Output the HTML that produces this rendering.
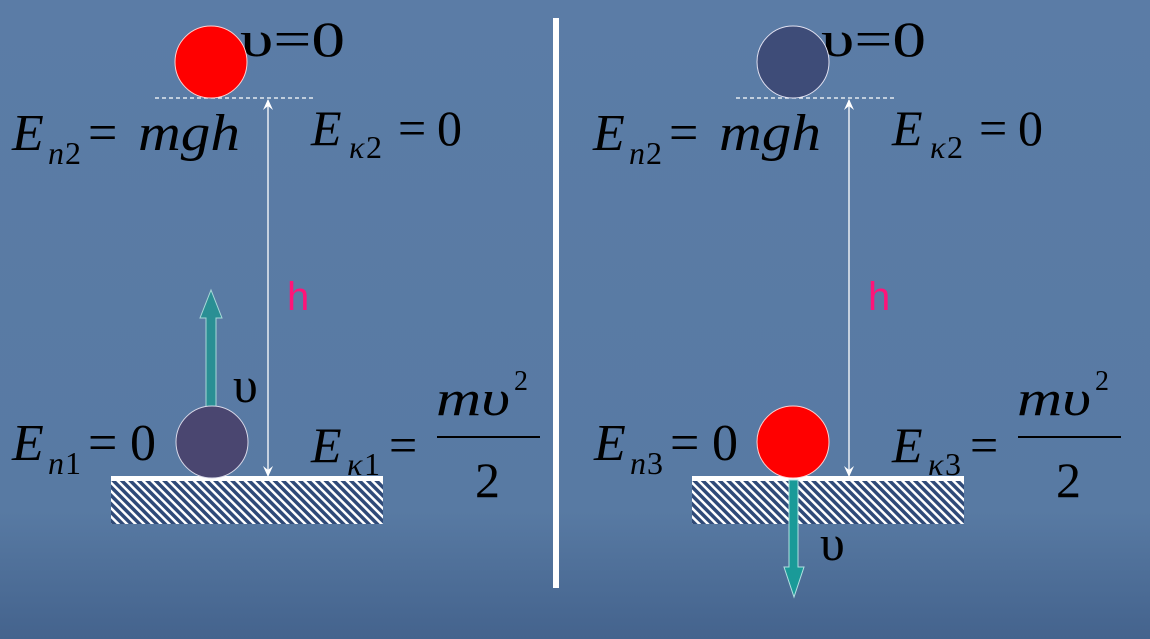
<!DOCTYPE html>
<html><head><meta charset="utf-8"><style>
html,body{margin:0;padding:0;width:1150px;height:639px;overflow:hidden}
svg{display:block}
svg text{font-family:"Liberation Serif","DejaVu Serif",serif}
svg text.hh{font-family:"Liberation Sans","DejaVu Sans",sans-serif}
</style></head><body>
<svg width="1150" height="639" viewBox="0 0 1150 639" xmlns="http://www.w3.org/2000/svg">
<defs>
<linearGradient id="bg" x1="0" y1="0" x2="0" y2="1">
<stop offset="0" stop-color="#5b7ca6"/><stop offset="0.8" stop-color="#587aa3"/><stop offset="1" stop-color="#44638d"/>
</linearGradient>
<pattern id="hatch" width="6" height="6" patternUnits="userSpaceOnUse" patternTransform="rotate(-45)">
<rect width="6" height="6" fill="#2f4a78"/><rect width="2.5" height="6" fill="#fff"/>
</pattern>
<g id="panel">
<line x1="155" y1="98" x2="316" y2="98" stroke="#fff" stroke-width="1.3" stroke-dasharray="4,3"/>
<line x1="268" y1="100" x2="268" y2="476" stroke="#fff" stroke-width="1.3"/>
<path d="M263,110 L268,99 L273,110 L268,106Z" fill="#fff"/>
<path d="M263,466 L268,477 L273,466 L268,470Z" fill="#fff"/>
<text x="240" y="56" font-size="50" textLength="105" lengthAdjust="spacingAndGlyphs">υ=0</text>
<text x="12" y="150" font-size="52" font-style="italic">E</text>
<text x="48" y="164" font-size="32" font-style="italic">n</text>
<text x="65" y="164" font-size="32">2</text>
<text x="88" y="150" font-size="52">=</text>
<text x="138" y="150" font-size="52" font-style="italic" textLength="102" lengthAdjust="spacingAndGlyphs">mgh</text>
<text x="311" y="145" font-size="50" font-style="italic">E</text>
<text x="349" y="158" font-size="32" font-style="italic">κ</text>
<text x="366" y="158" font-size="32">2</text>
<text x="398" y="145" font-size="50">=</text>
<text x="437" y="145" font-size="50">0</text>
<text class="hh" x="287" y="310" font-size="40" fill="#ff1478">h</text>
<rect x="111" y="476" width="272" height="5" fill="#fff"/>
<rect x="111" y="481" width="272" height="43" fill="url(#hatch)"/>
<text x="311" y="462" font-size="50" font-style="italic">E</text>
<text x="347" y="475" font-size="32" font-style="italic">κ</text>
<line x1="437" y1="437" x2="540" y2="437" stroke="#000" stroke-width="2"/>
<text x="436" y="415" font-size="50" font-style="italic" textLength="74" lengthAdjust="spacingAndGlyphs">mυ</text>
<text x="514" y="390" font-size="28">2</text>
<text x="389" y="462" font-size="50">=</text>
<text x="475" y="497" font-size="50">2</text>
</g>
</defs>
<rect width="1150" height="639" fill="url(#bg)"/>
<rect x="553" y="18" width="6" height="570" fill="#fff"/>
<use href="#panel"/>
<use href="#panel" transform="translate(581,0)"/>
<circle cx="211" cy="62" r="36" fill="#ff0000" stroke="#ffd0d0" stroke-width="1"/>
<path d="M206,408 L206,318 L200,318 L211,290 L222,318 L216,318 L216,408Z" fill="#2a8f94" stroke="#a8d8d8" stroke-width="1"/>
<text x="233" y="402" font-size="50">υ</text>
<circle cx="212" cy="442" r="36" fill="#4a4670" stroke="#d8d8e8" stroke-width="1"/>
<text x="12" y="460" font-size="52" font-style="italic">E</text>
<text x="48" y="474" font-size="32" font-style="italic">n</text>
<text x="65" y="474" font-size="32">1</text>
<text x="88" y="460" font-size="52">=</text>
<text x="130" y="460" font-size="52">0</text>
<text x="364" y="475" font-size="32">1</text>
<circle cx="793" cy="62" r="36" fill="#3e4c78" stroke="#e0e0f0" stroke-width="1"/>
<circle cx="793" cy="442" r="36" fill="#ff0000" stroke="#ffd0d0" stroke-width="1"/>
<path d="M789,480 L789,567 L784,567 L794,597 L804,567 L798,567 L798,480Z" fill="#1a9a98" stroke="#b0e0e0" stroke-width="1"/>
<text x="820" y="560" font-size="50">υ</text>
<text x="594" y="460" font-size="52" font-style="italic">E</text>
<text x="630" y="474" font-size="32" font-style="italic">n</text>
<text x="647" y="474" font-size="32">3</text>
<text x="670" y="460" font-size="52">=</text>
<text x="712" y="460" font-size="52">0</text>
<text x="945" y="475" font-size="32">3</text>
</svg>
</body></html>
